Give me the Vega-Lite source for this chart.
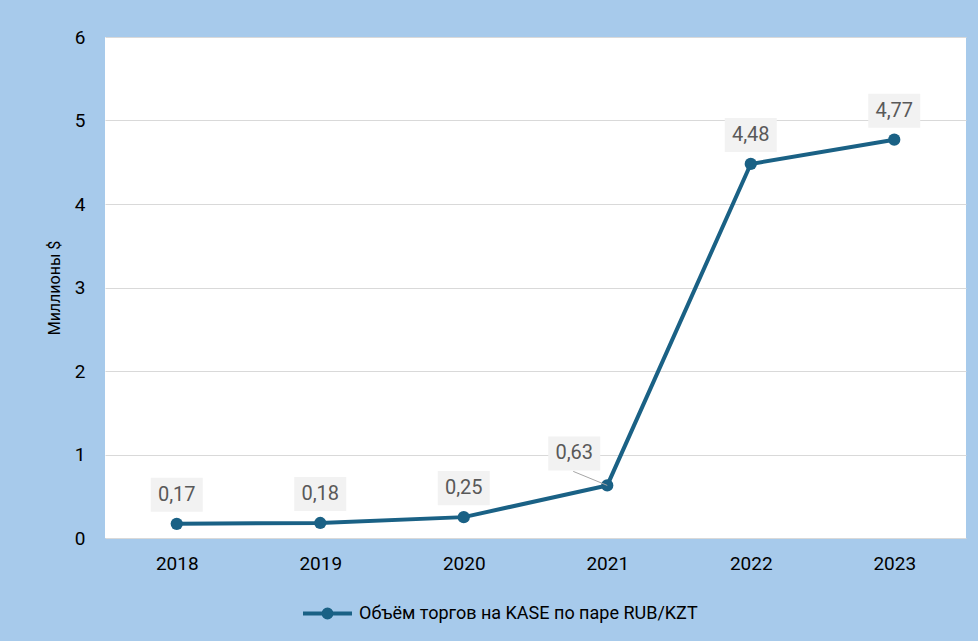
{
  "$schema": "https://vega.github.io/schema/vega-lite/v6.json",
  "width": 861,
  "height": 501,
  "autosize": {"type": "none"},
  "padding": {"left": 105, "top": 37, "right": 12, "bottom": 103},
  "background": "#a7caeb",
  "config": {
    "view": {"fill": "white", "stroke": null},
    "font": "Roboto",
    "legend": {
      "title": null,
      "orient": "none",
      "legendX": 196,
      "legendY": 550,
      "symbolType": "M-1,0H1M-0.16,0A0.16,0.16 0 1,1 0.16,0A0.16,0.16 0 1,1 -0.16,0Z",
      "symbolSize": 2400,
      "symbolStrokeWidth": 4,
      "symbolFillColor": "#1a6185",
      "symbolStrokeColor": "#1a6185",
      "labelFontSize": 18,
      "labelColor": "#000000",
      "labelOffset": 5,
      "padding": 0,
      "labelLimit": 500
    }
  },
  "data": {
    "values": [
      {"year": "2018", "value": 0.17, "label": "0,17"},
      {"year": "2019", "value": 0.18, "label": "0,18"},
      {"year": "2020", "value": 0.25, "label": "0,25"},
      {"year": "2021", "value": 0.63, "label": "0,63"},
      {"year": "2022", "value": 4.48, "label": "4,48"},
      {"year": "2023", "value": 4.77, "label": "4,77"}
    ]
  },
  "encoding": {
    "x": {
      "field": "year",
      "type": "ordinal",
      "scale": {"type": "point", "padding": 0.5},
      "axis": {
        "title": null,
        "labelAngle": 0,
        "domain": false,
        "ticks": false,
        "grid": false,
        "labelFontSize": 19,
        "labelColor": "#000000",
        "labelPadding": 16
      }
    },
    "y": {
      "field": "value",
      "type": "quantitative",
      "scale": {"domain": [0, 6]},
      "axis": {
        "title": "Миллионы $",
        "values": [0, 1, 2, 3, 4, 5, 6],
        "domain": false,
        "ticks": false,
        "gridColor": "#d9d9d9",
        "gridWidth": 1,
        "labelFontSize": 19,
        "labelColor": "#000000",
        "labelPadding": 20,
        "titleFontSize": 16,
        "titleFontWeight": "normal",
        "titleColor": "#000000",
        "titlePadding": 12
      }
    }
  },
  "layer": [
    {
      "mark": {"type": "line", "strokeWidth": 4},
      "encoding": {
        "color": {"datum": "Объём торгов на KASE по паре RUB/KZT", "scale": {"range": ["#1a6185"]}}
      }
    },
    {
      "mark": {"type": "point", "filled": true, "size": 150, "opacity": 1},
      "encoding": {
        "color": {"datum": "Объём торгов на KASE по паре RUB/KZT", "scale": {"range": ["#1a6185"]}}
      }
    },
    {
      "transform": [{"filter": "datum.year == '2021'"}],
      "mark": {"type": "rule", "color": "#a6a6a6", "strokeWidth": 1, "x2Offset": -34, "y2Offset": -14},
      "encoding": {
        "x2": {"field": "year"},
        "y2": {"field": "value"}
      }
    },
    {
      "transform": [{"filter": "datum.year != '2021'"}],
      "mark": {"type": "point", "shape": "M-1,-0.654L1,-0.654L1,0.654L-1,0.654Z", "size": 2704, "filled": true, "color": "#f2f2f2", "opacity": 1, "yOffset": -29}
    },
    {
      "transform": [{"filter": "datum.year == '2021'"}],
      "mark": {"type": "point", "shape": "M-1,-0.654L1,-0.654L1,0.654L-1,0.654Z", "size": 2704, "filled": true, "color": "#f2f2f2", "opacity": 1, "yOffset": -32, "xOffset": -33}
    },
    {
      "transform": [{"filter": "datum.year != '2021'"}],
      "mark": {"type": "text", "fontSize": 20, "color": "#595959", "baseline": "middle", "align": "center", "yOffset": -29},
      "encoding": {"text": {"field": "label"}}
    },
    {
      "transform": [{"filter": "datum.year == '2021'"}],
      "mark": {"type": "text", "fontSize": 20, "color": "#595959", "baseline": "middle", "align": "center", "yOffset": -32, "xOffset": -33},
      "encoding": {"text": {"field": "label"}}
    }
  ]
}
